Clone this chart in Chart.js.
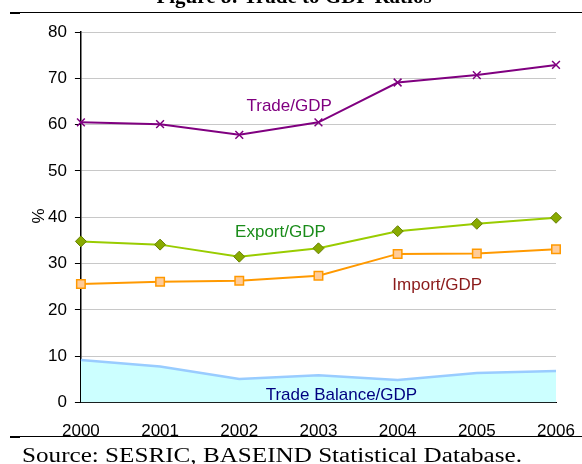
<!DOCTYPE html>
<html>
<head>
<meta charset="utf-8">
<script src="https://cdn.jsdelivr.net/npm/chart.js@4/dist/chart.umd.min.js"></script>
<style>
  html, body { margin: 0; padding: 0; background: #fff; }
  #wrap { width: 582px; height: 464px; position: relative; }
</style>
</head>
<body>
<div id="wrap"><canvas id="ratioChart"></canvas></div>
<script>
const years = ["2000", "2001", "2002", "2003", "2004", "2005", "2006"];
const tradeGdp = [60.5, 60.1, 57.8, 60.5, 69.1, 70.7, 72.9];
const exportGdp = [34.8, 34.1, 31.5, 33.3, 37.0, 38.6, 39.9];
const importGdp = [25.6, 26.1, 26.3, 27.4, 32.1, 32.2, 33.1];
const balanceGdp = [9.2, 7.8, 5.1, 5.9, 4.9, 6.4, 6.8];
const yTicks = [0, 10, 20, 30, 40, 50, 60, 70, 80];

// series labels written inside the plot: [text, x index, y value, colour]
const seriesLabels = [
    ["Trade/GDP", 2.63, 63.0, "#800080"],
    ["Export/GDP", 2.52, 35.8, "#1a8c1a"],
    ["Import/GDP", 4.5, 24.2, "#8b1a1a"],
    ["Trade Balance/GDP", 3.29, 0.5, "#000080"]
];

const pagePlugin = {
    id: "pageText",
    afterDraw(chart) {
        const ctx = chart.ctx;
        const xs = chart.scales.x, ys = chart.scales.y;
        ctx.save();

        // cut-off figure title at the top
        ctx.fillStyle = "#000";
        ctx.font = "bold 21px 'Liberation Serif'";
        ctx.textAlign = "center";
        ctx.textBaseline = "alphabetic";
        ctx.fillText("Figure 8: Trade to GDP Ratios", 294, 3);

        // rule lines above and below
        ctx.strokeStyle = "#000";
        ctx.lineWidth = 1;
        ctx.beginPath();
        ctx.moveTo(10, 12.5); ctx.lineTo(582, 12.5);
        ctx.moveTo(10, 436.5); ctx.lineTo(582, 436.5);
        ctx.stroke();
        ctx.lineWidth = 2;
        ctx.beginPath();
        ctx.moveTo(10, 13); ctx.lineTo(20, 13);
        ctx.moveTo(10, 437); ctx.lineTo(20, 437);
        ctx.stroke();

        // source line
        ctx.textAlign = "left";
        ctx.font = "20px 'Liberation Serif'";
        const src = "Source: SESRIC, BASEIND Statistical Database.";
        const w = ctx.measureText(src).width;
        ctx.save();
        ctx.translate(22, 462);
        ctx.scale(500 / w, 1);
        ctx.fillText(src, 0, 0);
        ctx.restore();

        // % axis title
        ctx.save();
        ctx.translate(44, 216);
        ctx.rotate(-Math.PI / 2);
        ctx.textAlign = "center";
        ctx.font = "17px 'Liberation Sans'";
        ctx.fillText("%", 0, 0);
        ctx.restore();

        // series labels
        ctx.font = "17px 'Liberation Sans'";
        ctx.textAlign = "center";
        seriesLabels.forEach(function (l) {
            ctx.fillStyle = l[3];
            ctx.fillText(l[0], xs.getPixelForValue(l[1]), ys.getPixelForValue(l[2]));
        });
        ctx.restore();
    }
};

new Chart(document.getElementById("ratioChart"), {
    type: "line",
    data: {
        labels: years,
        datasets: [
            {
                label: "Trade Balance/GDP",
                data: balanceGdp,
                borderColor: "#99ccff",
                backgroundColor: "#ccffff",
                borderWidth: 2.5,
                fill: "origin",
                pointRadius: 0,
                order: 4
            },
            {
                label: "Import/GDP",
                data: importGdp,
                borderColor: "#ff9900",
                backgroundColor: "#ffcc99",
                borderWidth: 2,
                pointStyle: "rect",
                pointRadius: 6,
                pointBorderWidth: 1.5,
                order: 3
            },
            {
                label: "Export/GDP",
                data: exportGdp,
                borderColor: "#99cc00",
                backgroundColor: "#88aa00",
                pointBorderColor: "#667f00",
                borderWidth: 2,
                pointStyle: "rectRot",
                pointRadius: 5.5,
                pointBorderWidth: 1,
                order: 2
            },
            {
                label: "Trade/GDP",
                data: tradeGdp,
                borderColor: "#800080",
                backgroundColor: "#800080",
                borderWidth: 2,
                pointStyle: "crossRot",
                pointRadius: 5.5,
                pointBorderWidth: 1.5,
                order: 1
            }
        ]
    },
    options: {
        responsive: true,
        maintainAspectRatio: false,
        animation: false,
        layout: { padding: { left: 40, right: 0, top: 32, bottom: 8 } },
        plugins: {
            legend: { display: false },
            tooltip: { enabled: false }
        },
        scales: {
            x: {
                offset: false,
                afterFit: function (scale) {
                    scale.paddingRight = 26;
                },
                grid: { display: false, drawTicks: true, tickLength: 5, color: "#000" },
                border: { color: "#000", width: 1 },
                ticks: {
                    color: "#000",
                    font: { family: "Liberation Sans", size: 17 },
                    padding: 14,
                    maxRotation: 0
                }
            },
            y: {
                min: 0,
                max: 80,
                afterBuildTicks: function (axis) {
                    axis.ticks = yTicks.map(function (v) { return { value: v }; });
                },
                grid: {
                    color: "#c8c8c8",
                    tickColor: "#000",
                    tickLength: 6
                },
                border: { color: "#000", width: 1.5 },
                ticks: {
                    color: "#000",
                    font: { family: "Liberation Sans", size: 17 },
                    padding: 8
                }
            }
        }
    },
    plugins: [pagePlugin]
});
</script>
</body>
</html>
